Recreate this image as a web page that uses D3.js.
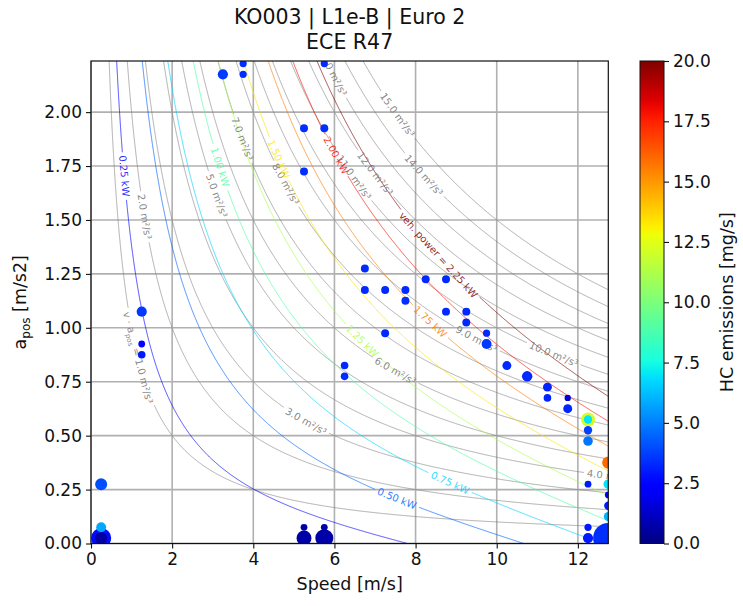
<!DOCTYPE html>
<html><head><meta charset="utf-8">
<script src="https://cdn.jsdelivr.net/npm/d3@7"></script>
<style>body{margin:0;background:#fff} text{font-family:"DejaVu Sans",sans-serif}</style>
</head><body><svg id="c" width="743" height="606"></svg>
<script>
// ---------------- data ----------------
const titleLines = ["KO003 | L1e-B | Euro 2", "ECE R47"];
const xTicks = [0, 2, 4, 6, 8, 10, 12];
const yTicks = [0, 0.25, 0.5, 0.75, 1.0, 1.25, 1.5, 1.75, 2.0];
const cbTicks = [0, 2.5, 5, 7.5, 10, 12.5, 15, 17.5, 20];
const xDomain = [0, 12.75];
const yDomain = [0, 2.237];
const hcDomain = [0, 20];

// binned operating points: speed [m/s], a_pos [m/s2], HC [mg/s], sample count
const ptSpeed = [3.25,3.75,3.75,5.75,5.25,5.75,5.25,1.25,1.25,1.25,6.75,6.75,7.25,7.75,7.75,8.25,8.75,8.75,9.25,9.25,7.25,6.25,6.25,9.75,9.75,10.25,10.75,11.25,11.25,11.75,11.75,12.25,12.25,12.25,12.25,12.75,12.25,12.75,12.75,12.75,12.75,12.25,12.25,12.75,0.25,0.25,0.25,0.25,5.25,5.25,5.75,5.75];
const ptAcc   = [2.175,2.225,2.175,2.225,1.925,1.925,1.725,1.075,0.925,0.875,1.275,1.175,1.175,1.175,1.125,1.225,1.225,1.075,1.075,1.025,0.975,0.825,0.775,0.975,0.925,0.825,0.775,0.725,0.675,0.675,0.625,0.575,0.575,0.525,0.475,0.375,0.275,0.275,0.225,0.175,0.125,0.075,0.025,0.025,0.275,0.075,0.025,0.025,0.075,0.025,0.075,0.025];
const ptHC    = [3.6,3.4,3.4,3.4,3.4,3.4,3.4,3.6,2.6,3.0,3.3,3.3,3.3,3.3,3.4,3.3,3.3,3.3,3.3,3.3,3.3,3.3,3.3,3.3,3.6,3.3,3.3,3.2,3.2,1.5,3.2,12.2,7.0,3.8,4.8,16.0,3.0,7.0,2.5,3.0,6.0,3.0,3.0,3.4,4.0,5.8,2.7,0.6,0.7,0.7,0.7,0.7];
const ptCount = [18,9,9,9,11,11,11,18,8,10,11,11,11,11,11,11,11,11,11,11,11,10,10,9,17,14,19,14,10,7,14,34,12,12,16,26,8,16,8,12,14,9,18,160,25,17,70,25,8,39,8,56];

// v * a_pos iso-lines [m2/s3] and where their labels sit (speed)
const vaLevels     = [1,2,3,4,5,6,7,8,9,10,11,12,13,14,15];
const vaLabelSpeed = [1.16,1.32,5.3,12.78,3.1,7.5,3.73,4.8,9.5,11.4,6.48,7.0,5.95,8.2,7.55];
// vehicle power iso-lines [kW] and label positions (speed)
const powerLevels     = [0.25,0.5,0.75,1.0,1.25,1.5,1.75,2.0,2.25];
const powerLabelSpeed = [0.82,7.54,8.85,3.18,6.68,4.63,8.36,6.04,8.56];
// vehicle model: mass [kg], road load F = f0 + f2 v^2 [N]
const vehMass = [170];
const roadLoad = [15, 0.28];

// ---------------- helpers ----------------
const jetSeg = {
  r: [[0,0],[0.35,0],[0.66,1],[0.89,1],[1,0.5]],
  g: [[0,0],[0.125,0],[0.375,1],[0.64,1],[0.91,0],[1,0]],
  b: [[0,0.5],[0.11,1],[0.34,1],[0.65,0],[1,0]]
};
function segVal(s, t){
  t = Math.max(0, Math.min(1, t));
  for (let i=1;i<s.length;i++){ if (t<=s[i][0]){ const [x0,y0]=s[i-1],[x1,y1]=s[i]; return y0+(y1-y0)*(t-x0)/(x1-x0);} }
  return s[s.length-1][1];
}
function jet(t){ return d3.rgb(255*segVal(jetSeg.r,t),255*segVal(jetSeg.g,t),255*segVal(jetSeg.b,t)).formatHex(); }

const svg = d3.select("#c");
const L=91, R=608.3, T=61, B=543.5;
const x = d3.scaleLinear().domain(xDomain).range([L,R]);
const y = d3.scaleLinear().domain(yDomain).range([B,T]);
const rScale = d3.scaleSqrt().domain([0,150]).range([0,14.7]);
const cScale = d3.scaleLinear().domain(hcDomain).range([0,1]);

svg.append("rect").attr("width",743).attr("height",606).attr("fill","#fff");
const defs = svg.append("defs");
defs.append("clipPath").attr("id","clip").append("rect").attr("x",L).attr("y",T).attr("width",R-L).attr("height",B-T);

// grid
const grid = svg.append("g");
grid.selectAll(".gx").data(xTicks).join("line").attr("x1",d=>x(d)).attr("x2",d=>x(d)).attr("y1",T).attr("y2",B).attr("stroke","#b0b0b0").attr("stroke-width",1.6);
grid.selectAll(".gy").data(yTicks).join("line").attr("y1",d=>y(d)).attr("y2",d=>y(d)).attr("x1",L).attr("x2",R).attr("stroke","#b0b0b0").attr("stroke-width",1.6);

const plot = svg.append("g").attr("clip-path","url(#clip)");

function bisectV(f, target, lo, hi){ // f decreasing in v
  for (let i=0;i<60;i++){ const m=(lo+hi)/2; if (f(m)>target) lo=m; else hi=m; }
  return (lo+hi)/2;
}
function curveSamples(f){
  const aTop = yDomain[1]*1.03;
  const vStart = bisectV(f, aTop, 1e-4, 40);
  let vEnd = xDomain[1];
  if (f(vEnd) < 0) vEnd = bisectV(f, 0, vStart, vEnd);
  const vs = [];
  const N=700;
  for (let i=0;i<=N;i++) vs.push(vStart+(vEnd-vStart)*i/N);
  const aHi=f(vStart), aLo=f(vEnd);
  for (let i=1;i<N;i++){ const a=aLo+(aHi-aLo)*i/N; vs.push(bisectV(f,a,vStart,vEnd)); }
  vs.sort((p,q)=>p-q);
  return vs.map(v=>({v, a:f(v), px:x(v), py:y(f(v))}));
}

function drawContour(f, labelV, color, lineOpacity, labelOpacity, buildLabel){
  const cx = x(labelV), cy = y(f(labelV));
  const p1=[x(labelV-0.01),y(f(labelV-0.01))], p2=[x(labelV+0.01),y(f(labelV+0.01))];
  const ang = Math.atan2(p2[1]-p1[1], p2[0]-p1[0])*180/Math.PI;
  const t = plot.append("text").attr("transform",`translate(${cx},${cy}) rotate(${ang})`)
    .attr("text-anchor","middle").attr("dy","0.35em").attr("font-size",10)
    .attr("fill",color).attr("fill-opacity",labelOpacity);
  buildLabel(t);
  const half = t.node().getComputedTextLength()/2 + 3;
  const pts = curveSamples(f);
  const line = d3.line().defined(p=>Math.hypot(p.px-cx,p.py-cy)>half).x(p=>p.px).y(p=>p.py);
  plot.insert("path","text").attr("d",line(pts)).attr("fill","none").attr("stroke",color)
    .attr("stroke-opacity",lineOpacity).attr("stroke-width",1);
}

// v*a contours
vaLevels.forEach((c,i)=>{
  drawContour(v=>c/v, vaLabelSpeed[i], "#808080", 0.62, 0.95, t=>{
    if (c===1){
      t.append("tspan").text("v · a");
      t.append("tspan").attr("font-size",7).attr("dy","3").text("pos");
      t.append("tspan").attr("dy","-3").text(" = 1.0 m²/s³");
    } else t.text(c.toFixed(1)+" m²/s³");
  });
});
// power contours
const pMax = d3.max(powerLevels);
powerLevels.forEach((P,i)=>{
  const f = v => (P*1000/v - roadLoad[0] - roadLoad[1]*v*v)/vehMass[0];
  const col = jet(P/pMax);
  drawContour(f, powerLabelSpeed[i], col, 0.7, 0.85, t=>{
    t.text(i===powerLevels.length-1 ? "veh. power = "+P.toFixed(2)+" kW" : P.toFixed(2)+" kW");
  });
});

// scatter
const idx = d3.range(ptSpeed.length).sort((p,q)=>ptCount[q]-ptCount[p]);
plot.append("g").selectAll("circle").data(idx).join("circle")
  .attr("cx",i=>x(ptSpeed[i])).attr("cy",i=>y(ptAcc[i])).attr("r",i=>rScale(ptCount[i]))
  .attr("fill",i=>jet(cScale(ptHC[i])));

// frame
svg.append("rect").attr("x",L).attr("y",T).attr("width",R-L).attr("height",B-T).attr("fill","none").attr("stroke","#111").attr("stroke-width",1.2);

// axes
const FS = 17;
const xa = svg.append("g").attr("transform",`translate(0,${B})`)
  .call(d3.axisBottom(x).tickValues(xTicks).tickFormat(d3.format("d")).tickSize(5).tickPadding(4));
const ya = svg.append("g").attr("transform",`translate(${L},0)`)
  .call(d3.axisLeft(y).tickValues(yTicks).tickFormat(d3.format(".2f")).tickSize(5).tickPadding(4));
[xa,ya].forEach(g=>{ g.select(".domain").remove(); g.selectAll("text").attr("font-size",FS).attr("fill","#111").attr("font-family","DejaVu Sans"); g.selectAll("line").attr("stroke","#111").attr("stroke-width",1.1); });

svg.append("text").attr("x",(L+R)/2).attr("y",590).attr("text-anchor","middle").attr("font-size",17.5).attr("fill","#111").text("Speed [m/s]");
const yl = svg.append("text").attr("transform",`translate(26,${(T+B)/2}) rotate(-90)`).attr("text-anchor","middle").attr("font-size",17.5).attr("fill","#111");
yl.append("tspan").text("a");
yl.append("tspan").attr("font-size",12).attr("dy",4).text("pos");
yl.append("tspan").attr("dy",-4).text(" [m/s2]");

titleLines.forEach((s,i)=>svg.append("text").attr("x",(L+R)/2).attr("y",24+i*25).attr("text-anchor","middle").attr("font-size",20.5).attr("fill","#111").text(s));

// colorbar
const cbX=640, cbW=24;
const grad = defs.append("linearGradient").attr("id","jetg").attr("x1",0).attr("y1",1).attr("x2",0).attr("y2",0);
d3.range(0,1.0001,0.02).forEach(t=>grad.append("stop").attr("offset",t).attr("stop-color",jet(t)));
svg.append("rect").attr("x",cbX).attr("y",T).attr("width",cbW).attr("height",B-T).attr("fill","url(#jetg)").attr("stroke","#111").attr("stroke-width",1);
const cby = d3.scaleLinear().domain(hcDomain).range([B,T]);
const ca = svg.append("g").attr("transform",`translate(${cbX+cbW},0)`)
  .call(d3.axisRight(cby).tickValues(cbTicks).tickFormat(d3.format(".1f")).tickSize(5).tickPadding(4));
ca.select(".domain").remove();
ca.selectAll("text").attr("font-size",FS).attr("fill","#111").attr("font-family","DejaVu Sans");
ca.selectAll("line").attr("stroke","#111").attr("stroke-width",1.1);
svg.append("text").attr("transform",`translate(733,${(T+B)/2}) rotate(-90)`).attr("text-anchor","middle").attr("font-size",17.5).attr("fill","#111").text("HC emissions [mg/s]");
</script></body></html>
